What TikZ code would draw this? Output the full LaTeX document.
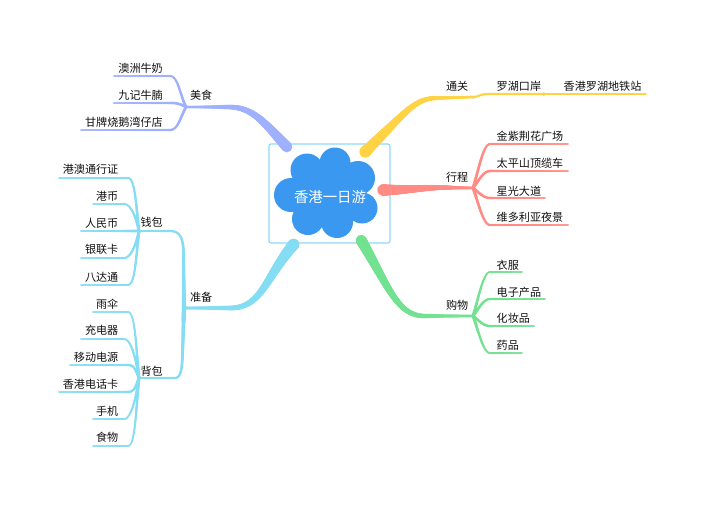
\documentclass[tikz,border=0pt]{standalone}
\usepackage{fontspec}
\setmainfont{Noto Sans CJK SC}
\usetikzlibrary{decorations.markings,calc}
\definecolor{cY}{HTML}{FFD343}
\definecolor{cR}{HTML}{FF8B84}
\definecolor{cG}{HTML}{72E290}
\definecolor{cB}{HTML}{85DDF4}
\definecolor{cP}{HTML}{9FB0FF}
\definecolor{cCloud}{HTML}{3A98F0}
\definecolor{cBox}{HTML}{8FD9F8}
\definecolor{cText}{HTML}{111111}
\tikzset{
  x=1pt,y=-1pt,
  label/.style={inner sep=0pt,font=\fontsize{11.1}{11}\selectfont,text=cText},
  taper/.style n args={3}{postaction={decorate,decoration={markings,
    mark=between positions 0 and 1 step 0.6pt with {%
      \pgfmathsetmacro\tp{max(\pgfdecoratedcompleteddistance/\pgfdecoratedpathlength,0.001)}%
      \pgfmathsetmacro\rr{#2+(#3-#2)*\tp^1.5}%
      \fill[#1] (0,0) circle[radius=\rr pt];}}}},
}
% left leaf: colour, name, text, text y, line left x, line y, bend x, junction
\newcommand{\leafL}[8][cB]{%
  \node[label,anchor=east] (#2) at (118.5,#4) {#3};
  \coordinate (#2e) at (#5,#6);
  \coordinate (#2b) at (#7,#6);
  \path[taper={#1}{0.8}{1.5}] (#2e) -- (#2b) .. controls ($(#2b)+(7,0)$) and ($(#8)+(-3,{0.5*(#6-\csname jy#8\endcsname)})$) .. (#8);
}
% right leaf
\newcommand{\leafR}[8][cR]{%
  \node[label,anchor=west] (#2) at (496.5,#4) {#3};
  \coordinate (#2e) at (#5,#6);
  \coordinate (#2b) at (#7,#6);
  \path[taper={#1}{0.8}{1.6}] (#2e) -- (#2b) .. controls ($(#2b)+(-7,0)$) and ($(#8)+(5,{0.35*(#6-\csname jy#8\endcsname)})$) .. (#8);
}
\begin{document}
\begin{tikzpicture}
\useasboundingbox (0,0) rectangle (704,504);
\fill[white] (0,0) rectangle (704,504);

% root
\node[draw=cBox,line width=1.2pt,rounded corners=2pt,minimum width=121pt,minimum height=99pt,inner sep=0pt] (box) at (329.5,193.5) {};
\fill[cCloud] (335,163) circle[radius=15.5] (307,170) circle[radius=16.5] (358,178) circle[radius=17]
  (291,195) circle[radius=17] (362,208) circle[radius=15.5] (308,219) circle[radius=16] (337,222) circle[radius=16]
  (330,193) circle[radius=30];
\node[inner sep=0pt,text=white,font=\fontsize{14.4}{14}\selectfont] (root) at (330,197) {香港一日游};

% junctions
\coordinate (jF) at (186,107);   \def\jyjF{107}
\coordinate (jR) at (473,188);   \def\jyjR{188}
\coordinate (jG) at (473,316);   \def\jyjG{316}
\coordinate (jP) at (184,308);
\coordinate (jW) at (139,231);   \def\jyjW{231}
\coordinate (jK) at (139,378);   \def\jyjK{378}

% root ends
\coordinate (rF) at (287,147);
\coordinate (rY) at (365,152);
\coordinate (rR) at (383,190);
\coordinate (rG) at (361,240);
\coordinate (rB) at (294,244);

% main branches
\path[taper={cP}{1.3}{5.5}] (jF) -- (228,107) .. controls (252,107) and (262,120) .. (rF);
\path[taper={cY}{1.4}{5.8}] (473,97) coordinate (jY) -- (438,98) .. controls (415,98) and (408,110) .. (rY);
\path[taper={cR}{1.5}{5.8}] (jR) -- (440,187.5) .. controls (420,188) and (405,190) .. (rR);
\path[taper={cG}{1.4}{5.6}] (jG) -- (425,316) .. controls (398,316) and (390,290) .. (rG);
\path[taper={cB}{1.5}{5.8}] (jP) -- (230,308) .. controls (262,308) and (265,278) .. (rB);

% second level of the left-hand branch
\coordinate (wb) at (170,231);
\coordinate (kb) at (175,378);
\path[taper={cB}{1}{2.2}] (jW) -- (wb) .. controls (180,231) and (183,238) .. (183.5,252) -- (jP);
\path[taper={cB}{1}{2.2}] (jK) -- (kb) .. controls (181,378) and (182,368) .. (182.5,355) -- (jP);

% yellow chain
\coordinate (y1) at (487,94);
\coordinate (y2) at (543,94);
\coordinate (y3) at (646,94);
\draw[line width=2.2pt,line cap=round,cY] (jY) .. controls (479,97) and (480,94) .. (y1) -- (y2);
\draw[line width=1.8pt,line cap=round,cY] (y2) -- (y3);
\fill[cY] (475,96.8) -- (473,99) -- (478,96) -- cycle (543,92) -- (548,94) -- (543,96) -- cycle;

% labels of main topics
\node[label,anchor=center] (nF) at (201.2,95) {美食};
\node[label,anchor=center] (nY) at (457.2,86) {通关};
\node[label,anchor=center] (nR) at (457.2,177) {行程};
\node[label,anchor=center] (nG) at (457.2,305) {购物};
\node[label,anchor=center] (nB) at (201.2,297) {准备};
\node[label,anchor=center] (nW) at (151.7,222) {钱包};
\node[label,anchor=center] (nK) at (151.7,371) {背包};
\node[label,anchor=west] (y1t) at (496.5,86) {罗湖口岸};
\node[label,anchor=west] (y2t) at (563.5,86) {香港罗湖地铁站};

% food leaves
\node[label,anchor=east] (f1) at (163,68) {澳洲牛奶};
\node[label,anchor=east] (f2) at (163,95) {九记牛腩};
\node[label,anchor=east] (f3) at (163,122) {甘牌烧鹅湾仔店};
\coordinate (f1e) at (114,76); \coordinate (f1b) at (170,76);
\coordinate (f2e) at (114,103); \coordinate (f2b) at (172,103);
\coordinate (f3e) at (81,130); \coordinate (f3b) at (170,130);
\path[taper={cP}{0.8}{1.5}] (f1e) -- (f1b) .. controls (178,76) and (180,95) .. (jF);
\path[taper={cP}{0.8}{1.5}] (f2e) -- (f2b) .. controls (178,103) and (182,105) .. (jF);
\path[taper={cP}{0.8}{1.5}] (f3e) -- (f3b) .. controls (178,130) and (180,118) .. (jF);

% wallet leaves
\leafL{w1}{港澳通行证}{169}{59}{178}{128}{jW}
\leafL{w2}{港币}{196}{93}{204}{124}{jW}
\leafL{w3}{人民币}{223}{81}{231}{125}{jW}
\leafL{w4}{银联卡}{249}{81}{258}{124}{jW}
\leafL{w5}{八达通}{277}{81}{285}{128}{jW}
% bag leaves
\leafL{k1}{雨伞}{304}{93}{312}{128}{jK}
\leafL{k2}{充电器}{330}{81}{339}{124}{jK}
\leafL{k3}{移动电源}{357}{70}{365}{128}{jK}
\leafL{k4}{香港电话卡}{384}{59}{392}{128}{jK}
\leafL{k5}{手机}{411}{93}{419}{124}{jK}
\leafL{k6}{食物}{437}{93}{446}{128}{jK}
% schedule leaves
\leafR{r1}{金紫荆花广场}{136}{568}{144}{490}{jR}
\leafR{r2}{太平山顶缆车}{163}{568}{171}{490}{jR}
\leafR{r3}{星光大道}{191}{545}{198}{490}{jR}
\leafR{r4}{维多利亚夜景}{217}{568}{225}{490}{jR}
% shopping leaves
\leafR[cG]{g1}{衣服}{265}{522}{272}{490}{jG}
\leafR[cG]{g2}{电子产品}{292}{545}{299}{490}{jG}
\leafR[cG]{g3}{化妆品}{318}{534}{326}{490}{jG}
\leafR[cG]{g4}{药品}{345}{522}{353}{490}{jG}
\end{tikzpicture}
\end{document}
